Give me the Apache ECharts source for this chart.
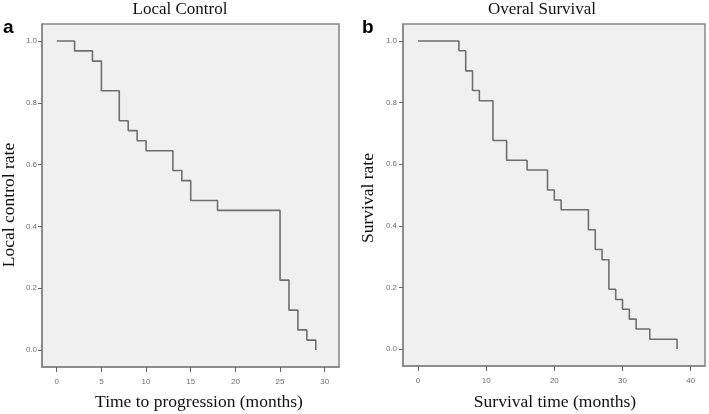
<!DOCTYPE html>
<html>
<head>
<meta charset="utf-8">
<script src="https://cdn.jsdelivr.net/npm/echarts@6/dist/echarts.min.js"></script>
<style>html,body{margin:0;padding:0;background:#fff}#c{width:709px;height:414px}</style>
</head>
<body>
<div id="c"></div>
<script>
// Local control (panel a)
const lcTimes = [0, 2, 4, 5, 7, 8, 9, 10, 13, 14, 15, 18, 25, 26, 27, 28, 29];
const lcRate  = [1.0, 0.968, 0.935, 0.839, 0.742, 0.710, 0.677, 0.645, 0.581, 0.548, 0.484, 0.452, 0.226, 0.129, 0.065, 0.032, 0.0];
// Overall survival (panel b)
const osTimes = [0, 6, 7, 8, 9, 11, 13, 16, 19, 20, 21, 25, 26, 27, 28, 29, 30, 31, 32, 34, 38];
const osRate  = [1.0, 0.968, 0.903, 0.839, 0.806, 0.677, 0.613, 0.581, 0.516, 0.484, 0.452, 0.387, 0.323, 0.290, 0.194, 0.161, 0.129, 0.097, 0.065, 0.032, 0.0];
// Tick labels
const lcXTicks = [0, 5, 10, 15, 20, 25, 30];
const osXTicks = [0, 10, 20, 30, 40];
const yTicks = [0, 0.2, 0.4, 0.6, 0.8, 1.0];

const chart = echarts.init(document.getElementById('c'), null, {renderer: 'canvas'});
const serif = '"Liberation Serif","DejaVu Serif",serif';
const tickFont = {fontSize: 8, color: '#6e6e6e', fontFamily: '"Liberation Sans",sans-serif'};
const borderColor = '#858585';

function xAxis(gi, min, max, ticks, margin) {
  return {
    type: 'value', gridIndex: gi, min: min, max: max,
    splitLine: {show: false},
    axisLine: {show: true, onZero: false, lineStyle: {color: borderColor, width: 1.5}},
    axisTick: {show: true, customValues: ticks, length: 5, lineStyle: {color: '#666', width: 1}},
    axisLabel: Object.assign({customValues: ticks, margin: margin, formatter: v => String(v)}, tickFont)
  };
}
function yAxis(gi, margin) {
  return {
    type: 'value', gridIndex: gi, min: -0.055, max: 1.055,
    splitLine: {show: false},
    axisLine: {show: true, onZero: false, lineStyle: {color: borderColor, width: 1.5}},
    axisTick: {show: true, customValues: yTicks, length: 4, lineStyle: {color: '#666', width: 1}},
    axisLabel: Object.assign({customValues: yTicks, margin: margin, formatter: v => v.toFixed(1)}, tickFont)
  };
}
function pairs(t, v) { return t.map((x, i) => [x, v[i]]); }

const option = {
  backgroundColor: '#ffffff',
  animation: false,
  grid: [
    {left: 42, top: 24, width: 297, height: 343, show: true, backgroundColor: '#f0f0f0', borderColor: borderColor, borderWidth: 1.5},
    {left: 403, top: 24, width: 302, height: 342, show: true, backgroundColor: '#f0f0f0', borderColor: borderColor, borderWidth: 1.5}
  ],
  xAxis: [xAxis(0, -1.65, 31.6, lcXTicks, 11), xAxis(1, -2.2, 42.1, osXTicks, 11)],
  yAxis: [yAxis(0, 5), yAxis(1, 6)],
  series: [
    {type: 'line', xAxisIndex: 0, yAxisIndex: 0, step: 'end', showSymbol: false, symbol: 'none',
     lineStyle: {color: '#6f6f6f', width: 1.6}, data: pairs(lcTimes, lcRate)},
    {type: 'line', xAxisIndex: 1, yAxisIndex: 1, step: 'end', showSymbol: false, symbol: 'none',
     lineStyle: {color: '#6f6f6f', width: 1.6}, data: pairs(osTimes, osRate)}
  ],
  graphic: [
    {type: 'text', x: 180, y: 10, style: {text: 'Local Control', font: '17px ' + serif, fill: '#111', align: 'center', verticalAlign: 'middle'}},
    {type: 'text', x: 542, y: 10, style: {text: 'Overal Survival', font: '17px ' + serif, fill: '#111', align: 'center', verticalAlign: 'middle'}},
    {type: 'text', x: 3, y: 28, style: {text: 'a', font: 'bold 19px "Liberation Sans",Arial,sans-serif', fill: '#000', align: 'left', verticalAlign: 'middle'}},
    {type: 'text', x: 362, y: 28, style: {text: 'b', font: 'bold 19px "Liberation Sans",Arial,sans-serif', fill: '#000', align: 'left', verticalAlign: 'middle'}},
    {type: 'text', x: 199, y: 402, style: {text: 'Time to progression (months)', font: '17.5px ' + serif, fill: '#111', align: 'center', verticalAlign: 'middle'}},
    {type: 'text', x: 555, y: 402, style: {text: 'Survival time (months)', font: '17.5px ' + serif, fill: '#111', align: 'center', verticalAlign: 'middle'}},
    {type: 'text', x: 9, y: 205, rotation: Math.PI / 2, style: {text: 'Local control rate', font: '17.5px ' + serif, fill: '#111', align: 'center', verticalAlign: 'middle'}},
    {type: 'text', x: 368, y: 198, rotation: Math.PI / 2, style: {text: 'Survival rate', font: '17.5px ' + serif, fill: '#111', align: 'center', verticalAlign: 'middle'}}
  ]
};
chart.setOption(option);
</script>
</body>
</html>
